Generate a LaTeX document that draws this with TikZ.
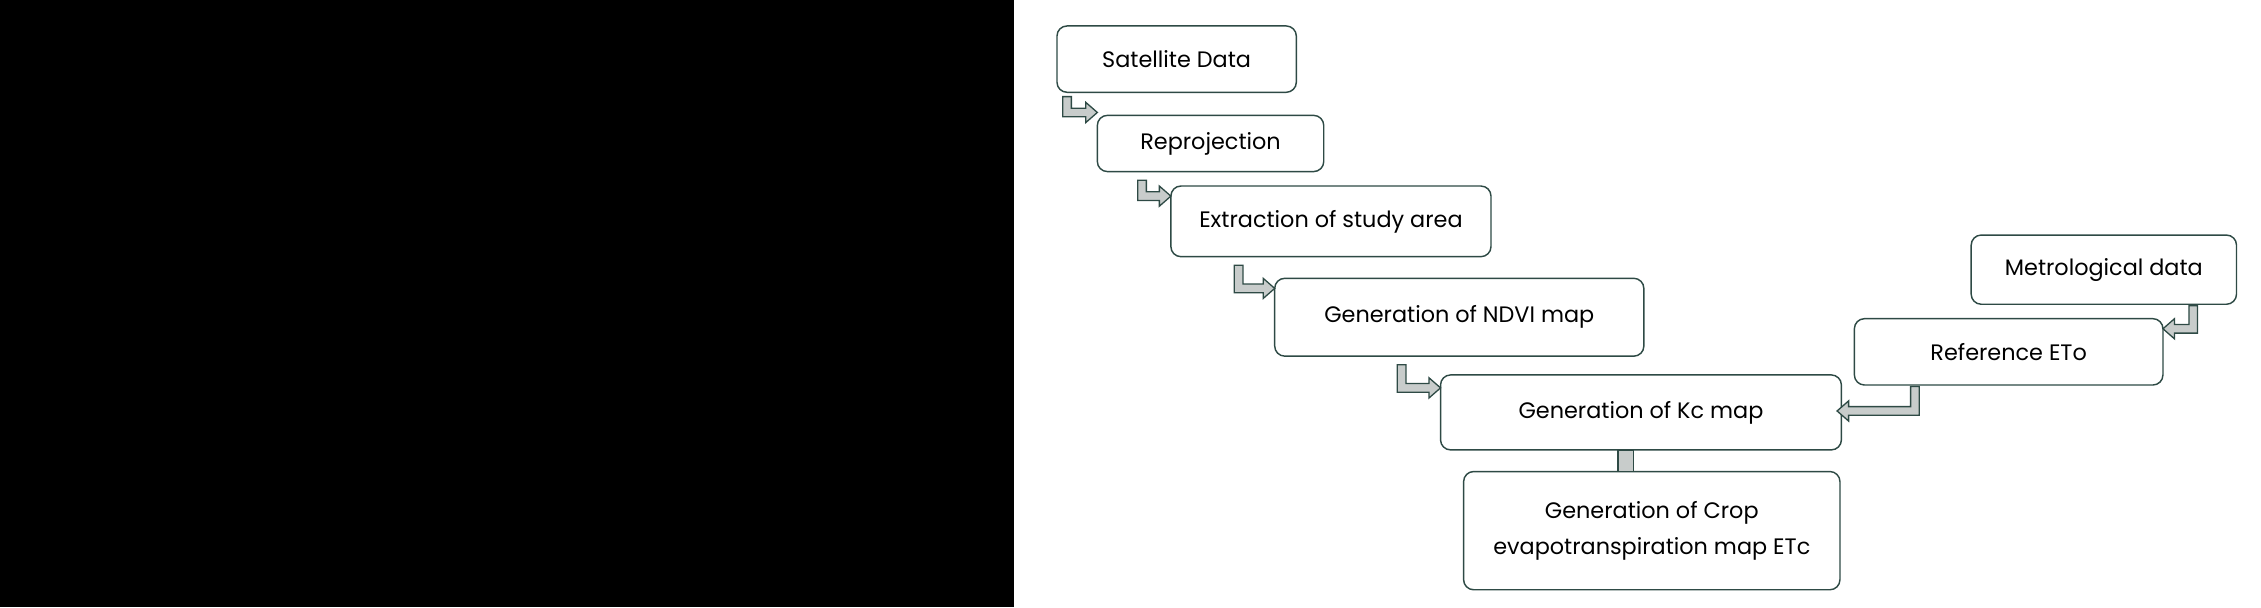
\documentclass[tikz,border=0pt]{standalone}
\usepackage{fontspec}
\setmainfont{Poppins}
\definecolor{edge}{HTML}{2E4A45}
\definecolor{arrfill}{HTML}{C8CCCB}
\begin{document}
\begin{tikzpicture}[x=1pt,y=-1pt,
  box/.style={draw=edge,line width=1pt,rounded corners=7pt,fill=white,font=\fontsize{15.5}{25}\selectfont,align=center,inner sep=0pt},
  arr/.style={draw=edge,fill=arrfill,line width=0.9pt,line join=miter}]
\useasboundingbox (0,0) rectangle (1568,421);
\fill[black] (0,0) rectangle (703,421);
\newcommand{\bx}[6]{\node[box,minimum width={#4-#2},minimum height={#5-#3}] (#1) at ({(#2+#4)/2},{(#3+#5)/2}) {#6};}
\bx{sat}{733}{18}{899}{64}{Satellite Data}
\bx{rep}{761}{80}{918}{119}{Reprojection}
\bx{ext}{812}{129}{1034}{178}{Extraction of study area}
\bx{ndvi}{884}{193}{1140}{247}{Generation of NDVI map}
\bx{kc}{999}{260}{1277}{312}{Generation of Kc map}
\bx{crop}{1015}{327}{1276}{409}{Generation of Crop\\evapotranspiration map ETc}
\bx{ref}{1286}{221}{1500}{267}{Reference ETo}
\bx{met}{1367}{163}{1551}{211}{Metrological data}
% bent arrows right: #1 stem left x, #2 top y, #3 bar centre y, #4 tip x
\newcommand{\barr}[4]{\draw[arr] (#1,#2) -- ({#1+6},#2) -- ({#1+6},{#3-3}) -- ({#4-8},{#3-3}) -- ({#4-8},{#3-7}) -- (#4,#3) -- ({#4-8},{#3+7}) -- ({#4-8},{#3+3}) -- (#1,{#3+3}) -- cycle;}
% bent arrows left: #1 stem right x
\newcommand{\barl}[4]{\draw[arr] (#1,#2) -- ({#1-6},#2) -- ({#1-6},{#3-3}) -- ({#4+8},{#3-3}) -- ({#4+8},{#3-7}) -- (#4,#3) -- ({#4+8},{#3+7}) -- ({#4+8},{#3+3}) -- (#1,{#3+3}) -- cycle;}
\barr{737}{67}{78}{761}
\barr{789}{125}{136}{812}
\barr{856}{184}{200}{884}
\barr{969}{253}{269}{999}
\barl{1331}{268}{285}{1274}
\barl{1524}{212}{228}{1500}
\draw[arr] (1122,312) rectangle (1133,327);
\end{tikzpicture}
\end{document}
